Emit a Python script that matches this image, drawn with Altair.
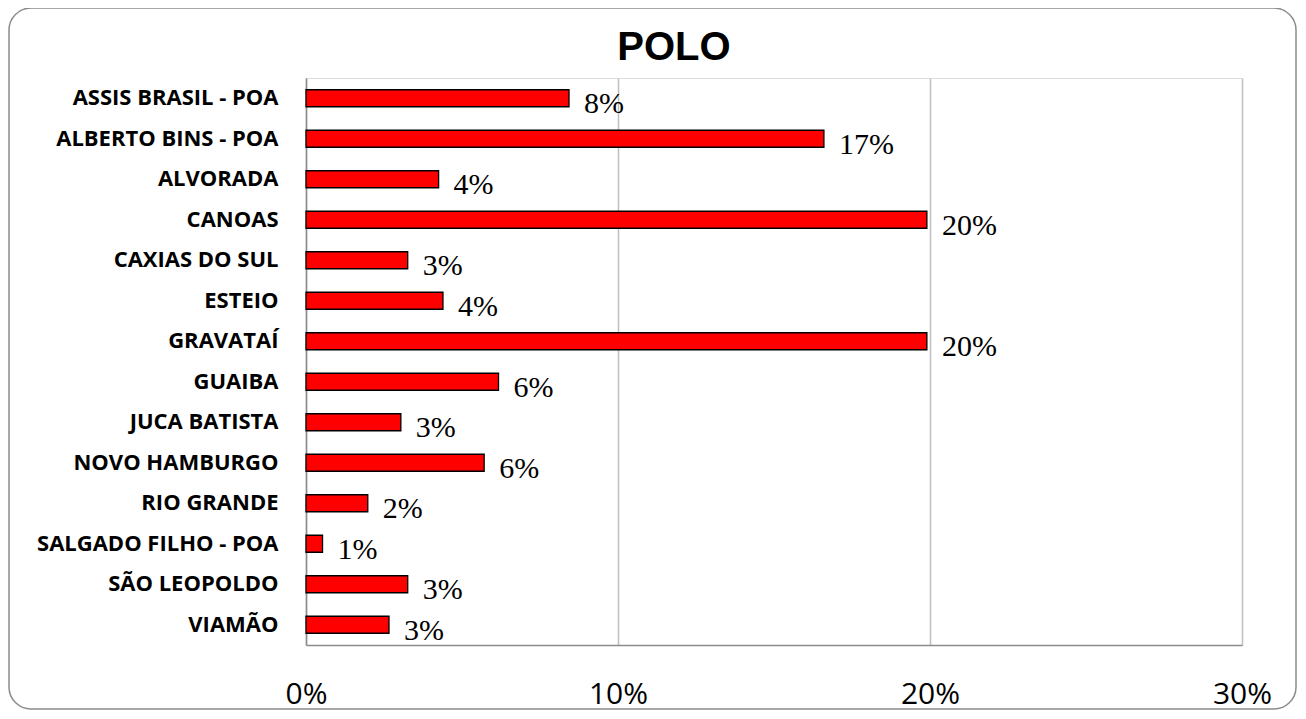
import altair as alt
import pandas as pd

categories = ["ASSIS BRASIL - POA", "ALBERTO BINS - POA", "ALVORADA", "CANOAS",
              "CAXIAS DO SUL", "ESTEIO", "GRAVATAÍ", "GUAIBA", "JUCA BATISTA",
              "NOVO HAMBURGO", "RIO GRANDE", "SALGADO FILHO - POA", "SÃO LEOPOLDO", "VIAMÃO"]
values = [0.0843, 0.166, 0.0425, 0.199, 0.0326, 0.0439, 0.199, 0.0617, 0.0304,
          0.0571, 0.0198, 0.0053, 0.0326, 0.0266]
x_ticks = [0, 0.1, 0.2, 0.3]
title_text = "POLO"

df = pd.DataFrame({"polo": categories, "valor": values})

W, H = 936, 567

y_enc = alt.Y("polo:N", sort=categories, title=None,
              scale=alt.Scale(paddingInner=0.58, paddingOuter=0.29),
              axis=alt.Axis(labelFont="Open Sans", labelFontWeight="bold", labelFontSize=22,
                            labelColor="#000000", labelPadding=28, labelLimit=400, ticks=False,
                            domainColor="#8c8c8c", domainWidth=1.5, grid=False))
x_enc = alt.X("valor:Q", title=None,
              scale=alt.Scale(domain=[0, 0.3], nice=False),
              axis=alt.Axis(values=x_ticks, format=".0%", labelFont="Open Sans",
                            labelFontSize=30, labelColor="#000000", labelPadding=34,
                            labelFlush=False, ticks=False, grid=True, gridColor="#bfbfbf",
                            gridWidth=1.5, domainColor="#8c8c8c", domainWidth=1.5))

bars = alt.Chart(df).mark_bar(color="#ff0000", stroke="#000000", strokeWidth=1.3).encode(
    x=x_enc, y=y_enc)

labels = alt.Chart(df).mark_text(align="left", baseline="middle", dx=15, dy=6,
                                 font="Liberation Serif", fontSize=30, color="#000000").encode(
    x="valor:Q", y=alt.Y("polo:N", sort=categories), text=alt.Text("valor:Q", format=".0%"))

title = alt.Chart(alt.Data(values=[{"t": title_text}])).mark_text(
    font="Liberation Sans", fontSize=40, fontWeight="bold", color="#000000",
    align="center", baseline="alphabetic").encode(
    x=alt.value(368), y=alt.value(-18), text="t:N")

frame = alt.Chart(alt.Data(values=[{}])).mark_rect(
    filled=False, stroke="#8c8c8c", strokeWidth=1.5, cornerRadius=22).encode(
    x=alt.value(-297), x2=alt.value(990), y=alt.value(-70), y2=alt.value(631))

chart = alt.layer(bars, labels, title, frame).properties(
    width=W, height=H,
    autosize=alt.AutoSizeParams(type="none"),
    padding={"left": 298, "top": 70, "right": 56, "bottom": 66},
).configure_view(stroke=None).configure(background="white")

chart.save("out.html", embed_options={"renderer": "svg", "actions": False})
